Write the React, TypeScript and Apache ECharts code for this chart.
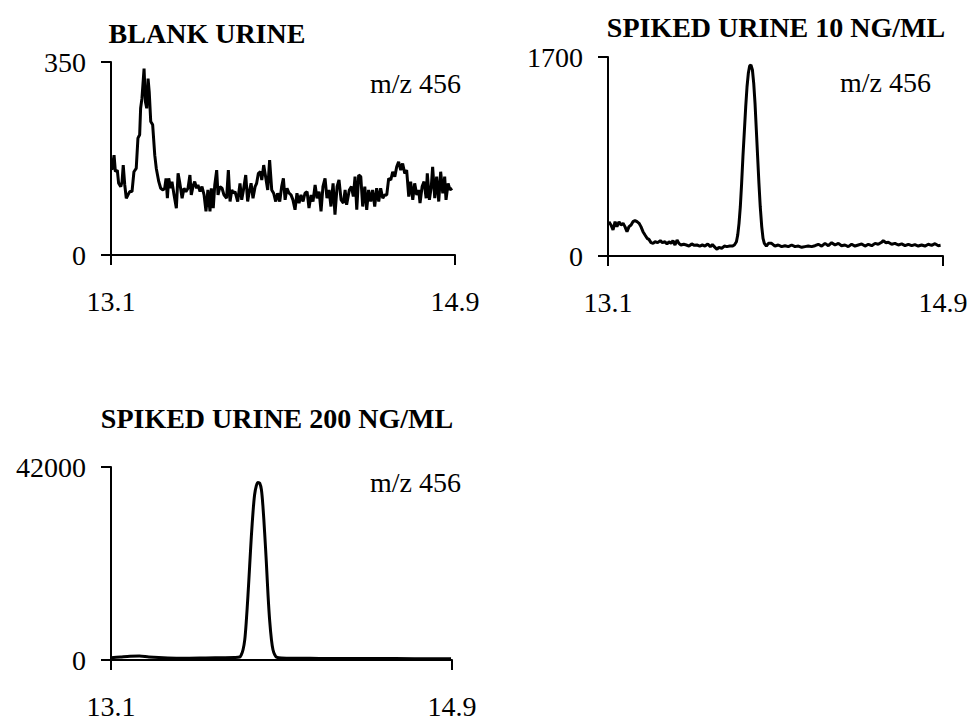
import React, { useEffect, useRef } from "react";
import * as echarts from "echarts";

const xRange = [13.1, 14.9];
const xTickLabels = [13.1, 14.9];
const titles = ["BLANK URINE", "SPIKED URINE 10 NG/ML", "SPIKED URINE 200 NG/ML"];
const ionLabel = "m/z 456";
const yMaxima = [350, 1700, 42000];

const blankUrine: [number, number][] = [
  [13.105,154],[13.116,181],[13.123,151],[13.133,154],[13.140,130],[13.151,124],[13.158,133],[13.164,163],[13.172,127],[13.180,103],
  [13.189,109],[13.198,115],[13.210,115],[13.220,151],[13.232,157],[13.241,212],[13.250,218],[13.255,266],[13.262,284],[13.273,338],
  [13.280,278],[13.287,266],[13.294,320],[13.300,296],[13.308,242],[13.318,236],[13.329,181],[13.337,157],[13.350,133],[13.360,121],
  [13.372,118],[13.381,121],[13.388,139],[13.395,103],[13.402,139],[13.412,121],[13.419,133],[13.430,109],[13.442,85],[13.451,148],
  [13.459,133],[13.472,103],[13.482,121],[13.492,115],[13.503,121],[13.513,145],[13.520,109],[13.531,127],[13.538,133],[13.548,121],
  [13.555,127],[13.566,115],[13.576,124],[13.587,109],[13.597,79],[13.607,118],[13.618,79],[13.625,121],[13.635,85],[13.643,127],
  [13.653,154],[13.660,109],[13.670,124],[13.681,121],[13.691,109],
  [13.705,103],[13.714,154],[13.723,97],[13.732,118],[13.740,112],[13.749,115],[13.763,97],[13.775,130],[13.784,100],[13.793,118],
  [13.805,145],[13.815,97],[13.822,112],[13.833,130],[13.843,103],[13.854,124],[13.862,130],[13.871,148],[13.882,151],[13.889,136],
  [13.899,163],[13.909,142],[13.920,118],[13.930,172],[13.941,118],[13.951,112],[13.962,97],[13.972,112],[13.983,97],[13.993,124],
  [14.002,139],[14.011,100],[14.021,121],[14.032,112],[14.042,109],[14.052,100],[14.063,82],[14.073,112],[14.084,94],[14.094,109],
  [14.105,97],[14.115,112],[14.126,115],[14.136,85],[14.147,109],[14.157,97],[14.168,127],[14.178,103],[14.189,115],[14.199,79],
  [14.209,124],[14.220,139],[14.230,103],[14.241,118],[14.251,88],[14.262,130],[14.272,73],[14.283,124],[14.293,136],[14.304,100],
  [14.316,94],[14.325,118],[14.333,91],[14.347,118],[14.358,124],[14.368,106],[14.377,142],[14.386,82],[14.396,145],[14.407,142],
  [14.417,88],[14.428,124],[14.438,82],[14.448,118],[14.459,97],[14.469,118],[14.480,88],[14.490,121],[14.501,97],[14.511,121],
  [14.522,103],[14.532,109],[14.543,109],[14.553,139],[14.564,136],[14.574,151],[14.585,142],[14.595,160],[14.605,169],[14.616,154],
  [14.626,166],[14.637,148],[14.647,154],[14.658,106],[14.668,133],[14.679,100],[14.689,130],[14.700,109],[14.710,118],[14.717,94],
  [14.728,124],[14.738,133],[14.749,103],[14.755,148],[14.766,100],[14.776,124],[14.783,160],[14.794,103],[14.804,142],[14.815,97],
  [14.825,151],[14.836,112],[14.846,142],[14.853,100],[14.864,130],[14.874,118],[14.885,121],
];

const spiked10: [number, number][] = [
  [13.105,293],[13.116,265],[13.127,222],[13.138,293],[13.148,251],[13.159,293],[13.170,265],[13.181,279],[13.191,251],[13.202,208],
  [13.213,251],[13.224,265],[13.234,293],[13.245,302],[13.256,293],[13.267,279],[13.277,251],[13.288,208],[13.299,179],[13.310,151],
  [13.320,142],[13.331,114],[13.342,108],[13.353,122],[13.367,114],[13.381,131],[13.392,114],[13.406,122],[13.417,103],[13.428,122],
  [13.439,108],[13.449,131],[13.460,94],[13.471,137],[13.481,108],[13.492,94],[13.507,100],[13.521,94],[13.535,85],[13.550,103],
  [13.564,91],[13.578,94],[13.593,85],[13.607,94],[13.621,85],[13.636,103],[13.650,80],[13.661,97],[13.675,74],[13.686,57],
  [13.696,74],[13.711,66],[13.725,85],[13.739,80],[13.754,85],[13.768,85],[13.779,94],[13.790,122],[13.797,179],[13.804,279],
  [13.811,421],[13.818,621],[13.825,848],[13.833,1076],[13.840,1276],[13.847,1446],[13.854,1561],[13.861,1623],[13.868,1632],[13.876,1589],
  [13.883,1475],[13.890,1304],[13.897,1076],[13.904,848],[13.911,621],[13.918,421],[13.926,251],[13.933,151],[13.940,108],[13.951,85],
  [13.962,108],
  [13.979,108],[13.997,85],[14.015,94],[14.033,80],[14.051,88],[14.069,80],[14.087,94],[14.105,80],[14.123,85],[14.141,74],
  [14.158,80],[14.176,85],[14.194,80],[14.212,88],[14.230,100],[14.248,85],[14.266,108],[14.284,88],[14.302,114],[14.320,94],
  [14.338,108],[14.355,88],[14.373,94],[14.391,80],[14.409,100],[14.427,85],[14.445,94],[14.463,103],[14.481,85],[14.499,100],
  [14.517,88],[14.535,108],[14.552,100],[14.570,117],[14.579,131],[14.594,114],[14.606,117],[14.624,100],[14.642,108],[14.660,94],
  [14.678,103],[14.696,88],[14.714,100],[14.732,88],[14.749,97],[14.767,85],[14.785,94],[14.803,85],[14.821,100],[14.839,91],
  [14.857,105],[14.875,88],[14.887,91],
];

const spiked200: [number, number][] = [
  [13.100,500],[13.150,650],[13.200,800],[13.250,850],[13.300,650],[13.400,450],[13.500,400],[13.600,450],[13.700,500],[13.750,550],
  [13.779,646],[13.788,1149],[13.797,2226],[13.806,4380],[13.814,8330],[13.823,14075],[13.832,20535],[13.841,26997],[13.850,32382],[13.858,35971],
  [13.867,37910],[13.876,38628],[13.885,38484],[13.894,37048],[13.902,33459],[13.911,27715],[13.920,21253],[13.929,14075],[13.938,8330],[13.947,4380],
  [13.955,2226],[13.964,1149],[13.973,646],[14.000,450],[14.200,350],[14.400,300],[14.600,300],[14.800,250],[14.895,250],
];

const FONT = "'Liberation Serif', 'Times New Roman', serif";

export default function App() {
  const ref = useRef<HTMLDivElement>(null);
  useEffect(() => {
    if (!ref.current) return;
    const chart = echarts.init(ref.current, undefined, { renderer: "svg" });
    const grids = [
      { left: 111, top: 62, width: 344, height: 193 },
      { left: 608, top: 57, width: 335, height: 199 },
      { left: 111, top: 467, width: 341, height: 195 },
    ];
    const lineStyle = { color: "#000", width: 2 };
    const xAxis = grids.map((_, i) => ({
      type: "value",
      gridIndex: i,
      min: xRange[0],
      max: xRange[1],
      axisLine: { show: true, onZero: false, lineStyle },
      axisTick: { show: true, length: 10, customValues: xTickLabels, lineStyle },
      axisLabel: {
        customValues: xTickLabels,
        margin: 32,
        fontSize: 28,
        fontFamily: FONT,
        color: "#000",
        formatter: (v: number) => v.toFixed(1),
      },
      splitLine: { show: false },
    }));
    const yAxis = grids.map((_, i) => ({
      type: "value",
      gridIndex: i,
      min: 0,
      max: yMaxima[i],
      axisLine: { show: true, lineStyle },
      axisTick: { show: true, length: 10, customValues: [0, yMaxima[i]], lineStyle },
      axisLabel: {
        customValues: [0, yMaxima[i]],
        margin: 25,
        fontSize: 28,
        fontFamily: FONT,
        color: "#000",
        formatter: (v: number) => String(v),
      },
      splitLine: { show: false },
    }));
    const datasets = [blankUrine, spiked10, spiked200];
    const series = datasets.map((d, i) => ({
      type: "line",
      xAxisIndex: i,
      yAxisIndex: i,
      data: d,
      showSymbol: false,
      symbol: "none",
      smooth: i === 2 ? 0.3 : false,
      lineStyle: { color: "#000", width: 3 },
    }));
    const titlePos = [
      { x: 207, y: 33 },
      { x: 776, y: 27 },
      { x: 277, y: 418 },
    ];
    const ionPos = [
      { x: 370, y: 83 },
      { x: 840, y: 82 },
      { x: 370, y: 482 },
    ];
    const graphic: any[] = [];
    titles.forEach((t, i) => {
      graphic.push({
        type: "text",
        x: titlePos[i].x,
        y: titlePos[i].y,
        style: {
          text: t,
          font: `bold 28px ${FONT}`,
          fill: "#000",
          align: "center",
          verticalAlign: "middle",
        },
      });
      graphic.push({
        type: "text",
        x: ionPos[i].x,
        y: ionPos[i].y,
        style: {
          text: ionLabel,
          font: `28px ${FONT}`,
          fill: "#000",
          align: "left",
          verticalAlign: "middle",
        },
      });
    });
    chart.setOption({
      animation: false,
      backgroundColor: "#fff",
      grid: grids,
      xAxis,
      yAxis,
      series,
      graphic,
    });
    return () => chart.dispose();
  }, []);
  return (
    <div
      ref={ref}
      style={{ position: "absolute", left: 0, top: 0, width: 973, height: 720 }}
    />
  );
}
